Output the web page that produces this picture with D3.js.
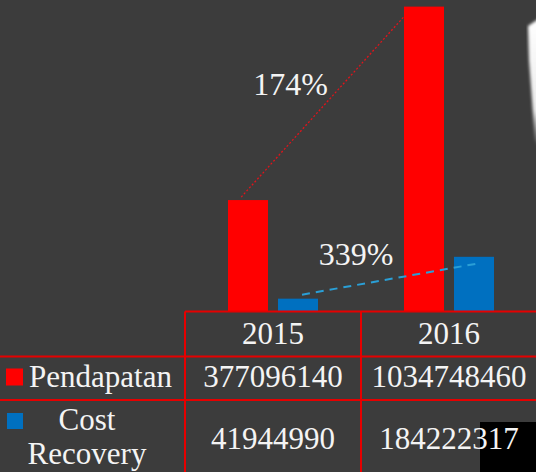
<!DOCTYPE html>
<html>
<head>
<meta charset="utf-8">
<script src="https://cdn.jsdelivr.net/npm/d3@7"></script>
<style>
  html, body { margin: 0; padding: 0; background: #3c3c3c; }
  svg { display: block; }
  text { font-family: "Liberation Serif", "Times New Roman", serif; fill: #f4f4f4; }
</style>
</head>
<body>
<script>
const years = ["2015", "2016"];
const seriesNames = ["Pendapatan", "Cost Recovery"];
const pendapatan = [377096140, 1034748460];
const costRecovery = [41944990, 184222317];
const seriesColors = ["#ff0000", "#0070c0"];
const trendColors = ["#e0141b", "#2a9fd6"];

const W = 536, H = 472;
const svg = d3.select("body").append("svg").attr("width", W).attr("height", H);
svg.append("rect").attr("width", W).attr("height", H).attr("fill", "#3c3c3c");

// white blurred brush shape top-right
const defs = svg.append("defs");
defs.append("filter").attr("id", "blur").append("feGaussianBlur").attr("stdDeviation", 1.6);
const grad = defs.append("linearGradient").attr("id", "fade").attr("x1", 0).attr("y1", 0).attr("x2", 0).attr("y2", 1);
grad.append("stop").attr("offset", "0").attr("stop-color", "#ffffff").attr("stop-opacity", 1);
grad.append("stop").attr("offset", "0.7").attr("stop-color", "#ffffff").attr("stop-opacity", 0.9);
grad.append("stop").attr("offset", "1").attr("stop-color", "#ffffff").attr("stop-opacity", 0);
svg.append("path")
  .attr("d", "M528,26 L540,18 L540,150 L535,140 L532,100 L529,60 Z")
  .attr("fill", "url(#fade)").attr("filter", "url(#blur)");

const values = [pendapatan, costRecovery];

const x0 = d3.scaleBand().domain(years).range([185, 537]).padding(0);
const x1 = d3.scaleBand().domain(seriesNames).range([43, 133]).paddingInner(0.2);
const y = d3.scaleLinear().domain([0, 1200000000]).range([311, -42]);

// bars
const g = svg.append("g");
seriesNames.forEach((s, si) => {
  g.selectAll(null).data(years).enter().append("rect")
    .attr("x", d => x0(d) + x1(s))
    .attr("width", x1.bandwidth())
    .attr("y", (d, i) => y(values[si][i]))
    .attr("height", (d, i) => y(0) - y(values[si][i]))
    .attr("fill", seriesColors[si]);
});

// trend lines + growth labels
const fmtPct = v => Math.floor(v * 100) + "%";
const trendCfg = [
  { si: 0, fx0: 0.33, dy0: -3, fx1: 0.0, dy1: 10, dash: "2,2", w: 1.3, lab: [-32, -12] },
  { si: 1, fx0: 0.6, dy0: -4, fx1: 0.55, dy1: 7, dash: "8,6", w: 2, lab: [-33, -14] }
];
trendCfg.forEach(c => {
  const s = seriesNames[c.si];
  const v = values[c.si];
  const xa = x0(years[0]) + x1(s) + x1.bandwidth() * c.fx0;
  const ya = y(v[0]) + c.dy0;
  const xb = x0(years[1]) + x1(s) + x1.bandwidth() * c.fx1;
  const yb = y(v[1]) + c.dy1;
  svg.append("line")
    .attr("x1", xa).attr("y1", ya).attr("x2", xb).attr("y2", yb)
    .attr("stroke", trendColors[c.si]).attr("stroke-width", c.w)
    .attr("stroke-dasharray", c.dash);
  svg.append("text")
    .attr("x", (xa + xb) / 2 + c.lab[0])
    .attr("y", (ya + yb) / 2 + c.lab[1])
    .attr("text-anchor", "middle")
    .attr("font-size", 32)
    .text(fmtPct((v[1] - v[0]) / v[0]));
});

// black rectangle (bottom right)
svg.append("rect").attr("x", 480).attr("y", 422).attr("width", 56).attr("height", 50).attr("fill", "#000");

// table
const rowY = [311.5, 356.5, 400];
const tbl = svg.append("g").attr("stroke", "#e60000").attr("stroke-width", 2);
tbl.append("line").attr("x1", 185).attr("x2", W).attr("y1", rowY[0]).attr("y2", rowY[0]);
tbl.append("line").attr("x1", 0).attr("x2", W).attr("y1", rowY[1]).attr("y2", rowY[1]);
tbl.append("line").attr("x1", 0).attr("x2", W).attr("y1", rowY[2]).attr("y2", rowY[2]);
years.forEach(yr => {
  tbl.append("line").attr("x1", x0(yr)).attr("x2", x0(yr)).attr("y1", rowY[0]).attr("y2", H);
});

const fs = 31;
years.forEach((yr, i) => {
  const cx = x0(yr) + x0.bandwidth() / 2;
  svg.append("text").attr("x", cx).attr("y", 344).attr("text-anchor", "middle").attr("font-size", fs).text(yr);
  svg.append("text").attr("x", cx).attr("y", 387).attr("text-anchor", "middle").attr("font-size", fs).text(pendapatan[i]);
  svg.append("text").attr("x", cx).attr("y", 448.5).attr("text-anchor", "middle").attr("font-size", fs).text(costRecovery[i]);
});

// row headers with legend keys
svg.append("rect").attr("x", 6).attr("y", 368.5).attr("width", 17).attr("height", 17).attr("fill", seriesColors[0]);
svg.append("text").attr("x", 29).attr("y", 387).attr("font-size", fs).text(seriesNames[0]);
svg.append("rect").attr("x", 7).attr("y", 413).attr("width", 16).attr("height", 16).attr("fill", seriesColors[1]);
const words = seriesNames[1].split(" ");
svg.append("text").attr("x", 87).attr("y", 430).attr("text-anchor", "middle").attr("font-size", fs).text(words[0]);
svg.append("text").attr("x", 87).attr("y", 463.5).attr("text-anchor", "middle").attr("font-size", fs).text(words[1]);
</script>
</body>
</html>
